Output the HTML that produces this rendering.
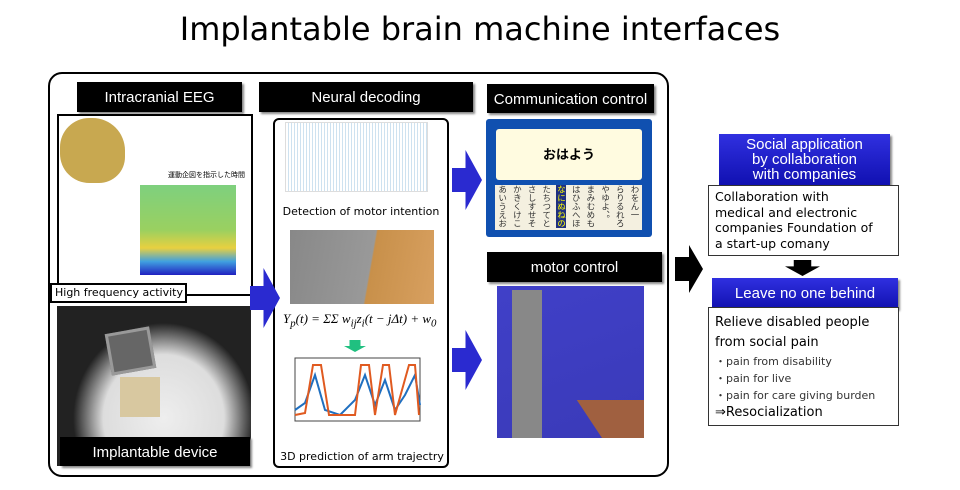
<!DOCTYPE html>
<html><head><meta charset="utf-8"><style>
body{margin:0;width:960px;height:490px;background:#fff;position:relative;overflow:hidden;font-family:"Liberation Sans","Noto Sans CJK JP",sans-serif}
div{position:absolute;box-sizing:border-box}
.hd{background:#000;color:#fff;text-align:center;font-size:15px;box-shadow:2px 2px 2px #888}
.bl{background:linear-gradient(#3030e0,#1010b0);color:#fff;text-align:center;box-shadow:2px 2px 2px #888}
.tb{border:1px solid #333;background:#fff;font-size:12.5px;line-height:15.5px;padding:3px 6px;font-family:"DejaVu Sans",sans-serif;white-space:nowrap}
</style></head><body>
<div style="left:0;top:10px;width:960px;text-align:center;font-size:32px;font-family:'DejaVu Sans',sans-serif">Implantable brain machine interfaces</div>
<div style="left:48px;top:72px;width:621px;height:405px;border:2px solid #000;border-radius:14px"></div>

<div class="hd" style="left:77px;top:82px;width:165px;height:30px;line-height:32px">Intracranial EEG</div>
<div style="left:57px;top:114px;width:196px;height:182px;border:2px solid #000;background:#fff"></div>
<div style="left:60px;top:118px;width:65px;height:65px;border-radius:45% 50% 40% 45%;background:#c8a850"></div>
<div style="left:140px;top:185px;width:96px;height:90px;background:linear-gradient(#7ed07e,#9ad060 50%,#e8d040 70%,#40a0e0 85%,#2020c0)"></div>
<div style="left:168px;top:170px;font-size:7px">運動企図を指示した時間</div>
<div style="left:50px;top:283px;width:137px;height:20px;border:2px solid #000;background:#fff;font-size:11px;line-height:16px;padding-left:3px;white-space:nowrap;font-family:'DejaVu Sans',sans-serif">High frequency activity</div>
<div style="left:57px;top:306px;width:194px;height:160px;background:radial-gradient(ellipse at 55% 70%,#eee 0,#ddd 40%,#222 60%)"></div>
<div style="left:108px;top:330px;width:45px;height:42px;background:#666;border:3px solid #999;transform:rotate(-10deg)"></div>
<div style="left:120px;top:377px;width:40px;height:40px;background:#d8c8a0"></div>
<div class="hd" style="left:60px;top:437px;width:190px;height:29px;line-height:31px">Implantable device</div>

<div class="hd" style="left:259px;top:82px;width:214px;height:30px;line-height:32px">Neural decoding</div>
<div style="left:273px;top:118px;width:176px;height:350px;border:2px solid #000;border-radius:6px;background:#fff"></div>
<div style="left:285px;top:122px;width:143px;height:70px;border:1px solid #ddd;background:repeating-linear-gradient(90deg,#fff 0,#fff 2px,#9cc4e0 3px)"></div>
<div style="left:275px;top:205px;width:172px;text-align:center;font-size:11px;font-family:'DejaVu Sans',sans-serif">Detection of motor intention</div>
<div style="left:290px;top:230px;width:144px;height:74px;background:linear-gradient(100deg,#888 0,#999 55%,#c8904a 56%,#d8a060)"></div>
<div style="left:283px;top:311px;font-size:13px;white-space:nowrap;font-family:'Liberation Serif',serif;font-style:italic">Y<sub>p</sub>(t) = ΣΣ w<sub>ij</sub>z<sub>i</sub>(t − jΔt) + w<sub>0</sub></div>
<div style="left:344px;top:340px;width:22px;height:12px;background:#20c080;clip-path:polygon(25% 0,75% 0,75% 50%,100% 50%,50% 100%,0 50%,25% 50%)"></div>
<svg style="position:absolute;left:285px;top:355px" width="145" height="90"><rect x="10" y="3" width="125" height="63" fill="none" stroke="#444"/>
<polyline fill="none" stroke="#1f6fc0" stroke-width="2" points="10,55 20,48 30,20 40,55 55,60 70,45 80,20 90,50 100,25 110,55 120,40 130,20 135,50"/>
<polyline fill="none" stroke="#e05a20" stroke-width="2" points="10,60 20,58 28,10 36,10 44,60 70,60 76,10 84,10 90,60 98,10 104,10 110,60 124,10 130,10 134,60"/></svg>
<div style="left:275px;top:450px;width:174px;text-align:center;font-size:11px;font-family:'DejaVu Sans',sans-serif">3D prediction of arm trajectry</div>

<div style="left:250px;top:268px;width:30px;height:60px;background:#2a2ad0;clip-path:polygon(0 30%,45% 30%,45% 0,100% 50%,45% 100%,45% 70%,0 70%)"></div>
<div style="left:452px;top:150px;width:30px;height:60px;background:#2a2ad0;clip-path:polygon(0 30%,45% 30%,45% 0,100% 50%,45% 100%,45% 70%,0 70%)"></div>
<div style="left:452px;top:330px;width:30px;height:60px;background:#2a2ad0;clip-path:polygon(0 30%,45% 30%,45% 0,100% 50%,45% 100%,45% 70%,0 70%)"></div>

<div class="hd" style="left:487px;top:84px;width:167px;height:29px;line-height:31px">Communication control</div>
<div style="left:486px;top:119px;width:166px;height:118px;background:#1050b0;border-radius:3px"></div>
<div style="left:496px;top:129px;width:146px;height:51px;background:#fffbe0;border-radius:3px;text-align:center;line-height:51px;font-weight:bold;font-size:13px">おはよう</div>
<div style="left:495px;top:185px;width:147px;height:45px;background:#f4f0e0;font-size:8.5px;line-height:14.7px;writing-mode:vertical-rl;color:#333;overflow:hidden">わをん一　らりるれろやゆよ、。まみむめもはひふへほ<span style="background:#203080;color:#ff0">なにぬねの</span>たちつてとさしすせそかきくけこあいうえお</div>

<div class="hd" style="left:487px;top:252px;width:175px;height:30px;line-height:32px">motor control</div>
<div style="left:497px;top:286px;width:147px;height:152px;background:linear-gradient(160deg,#4040c8,#3a3ab8)"></div>
<div style="left:512px;top:290px;width:30px;height:148px;background:#888"></div>
<div style="left:560px;top:400px;width:84px;height:38px;background:#a06040;clip-path:polygon(20% 0,100% 0,100% 100%,50% 100%)"></div>

<div style="left:675px;top:245px;width:28px;height:48px;background:#000;clip-path:polygon(0 25%,50% 25%,50% 0,100% 50%,50% 100%,50% 75%,0 75%)"></div>

<div class="bl" style="left:719px;top:134px;width:171px;height:52px;font-size:15px;line-height:15px;padding-top:3px">Social application<br>by collaboration<br>with companies</div>
<div class="tb" style="left:708px;top:185px;width:191px;height:71px">Collaboration with<br>medical and electronic<br>companies Foundation of<br>a start-up comany</div>
<div style="left:785px;top:260px;width:35px;height:16px;background:#000;clip-path:polygon(25% 0,75% 0,75% 40%,100% 40%,50% 100%,0 40%,25% 40%)"></div>
<div class="bl" style="left:712px;top:278px;width:186px;height:31px;line-height:31px;font-size:15px">Leave no one behind</div>
<div class="tb" style="left:708px;top:307px;width:191px;height:119px;padding-top:5px"><div style="position:static;font-size:13px;line-height:20px">Relieve disabled people<br>from social pain</div><div style="position:static;font-size:11px;line-height:17px;color:#333">・pain from disability<br>・pain for live<br>・pain for care giving burden</div><div style="position:static;font-size:13px;line-height:18px">⇒Resocialization</div></div>
</body></html>
